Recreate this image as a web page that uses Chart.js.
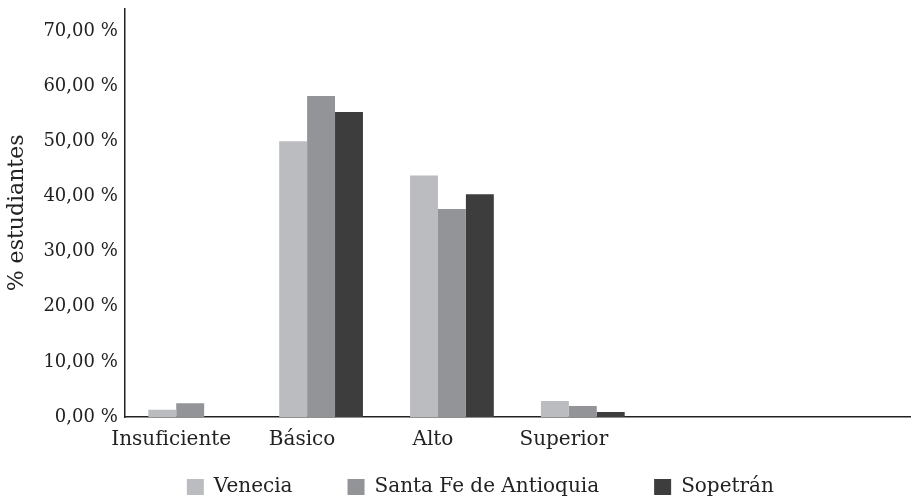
<!DOCTYPE html>
<html lang="es">
<head>
<meta charset="utf-8">
<title>Desempeño de estudiantes por nivel</title>
<script src="https://cdn.jsdelivr.net/npm/chart.js@4.4.1/dist/chart.umd.min.js"></script>
<style>
  html, body { margin: 0; padding: 0; background: #ffffff; }
  #wrap { width: 911px; height: 498px; position: relative; }
</style>
</head>
<body>
<div id="wrap"><canvas id="chart"></canvas></div>
<script>
// Performance levels (two trailing empty slots keep the axis running to the right)
const categories = ['Insuficiente', 'Básico', 'Alto', 'Superior', '', ''];

// Share of students per level, in percent
const venecia   = [1.3, 50.0, 43.8, 2.9, null, null];
const santaFe   = [2.5, 58.2, 37.7, 2.0, null, null];
const sopetran  = [0.0, 55.3, 40.4, 0.9, null, null];

const seriesNames = ['Venecia', 'Santa Fe de Antioquia', 'Sopetrán'];
const yTicks = [0, 10, 20, 30, 40, 50, 60, 70];

const serif = "'DejaVu Serif', serif";
const ink = '#222222';
const legendFont = 20;
const legendGap = 55;
const xBandHeight = 5;    // space the x axis claims in the layout
const legendShift = -37;  // horizontal nudge of the legend row

// The x axis claims a thin band so the legend can sit close to it;
// widen its drawing region again so the category names are not clipped,
// and nudge the legend row sideways.
const layoutTweaks = {
  id: 'layoutTweaks',
  afterLayout(chart) {
    const x = chart.scales.x;
    x.bottom = chart.height;
    const lg = chart.legend;
    if (lg) {
      lg.left += legendShift;
      lg.right += legendShift;
    }
  }
};

new Chart(document.getElementById('chart'), {
  type: 'bar',
  data: {
    labels: categories,
    datasets: [
      { label: seriesNames[0], data: venecia,  backgroundColor: '#bbbcc0' },
      { label: seriesNames[1], data: santaFe,  backgroundColor: '#939498' },
      { label: seriesNames[2], data: sopetran, backgroundColor: '#3d3d3d' }
    ]
  },
  plugins: [layoutTweaks],
  options: {
    responsive: true,
    maintainAspectRatio: false,
    animation: false,
    datasets: {
      bar: { barPercentage: 1.0, categoryPercentage: 0.64, borderWidth: 0 }
    },
    layout: { padding: { top: 0, right: 1, bottom: 1, left: 0 } },
    scales: {
      x: {
        grid: { display: false, drawTicks: false },
        border: { display: true, color: ink, width: 1.5 },
        afterFit: (scale) => { scale.height = xBandHeight; },
        ticks: {
          color: ink,
          font: { family: serif, size: 20 },
          padding: 11,
          labelOffset: -19,
          maxRotation: 0,
          autoSkip: false
        }
      },
      y: {
        min: 0,
        max: 74,
        grid: { display: false, drawTicks: false },
        border: { display: true, color: ink, width: 1.5 },
        afterBuildTicks: (axis) => {
          axis.ticks = yTicks.map(v => ({ value: v }));
        },
        ticks: {
          color: ink,
          font: { family: serif, size: 18, lineHeight: 0.2 },
          padding: 7,
          callback: (v) => v.toFixed(2).replace('.', ',') + ' %'
        },
        title: {
          display: true,
          text: '% estudiantes',
          color: ink,
          font: { family: serif, size: 22 },
          padding: { top: 4, bottom: 6 }
        }
      }
    },
    plugins: {
      legend: {
        position: 'bottom',
        fullSize: false,
        maxHeight: legendGap + legendFont,
        labels: {
          color: ink,
          font: { family: serif, size: legendFont },
          boxWidth: 17,
          boxHeight: 16,
          padding: legendGap
        }
      },
      tooltip: { enabled: false }
    }
  }
});
</script>
</body>
</html>
